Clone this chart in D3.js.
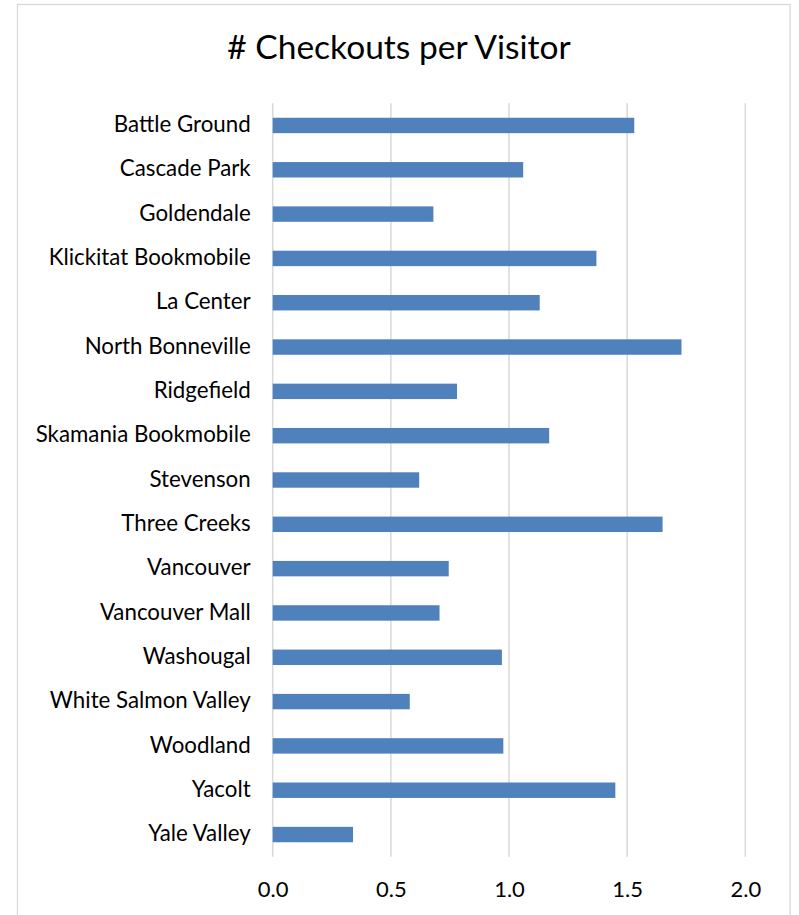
<!DOCTYPE html>
<html>
<head>
<meta charset="utf-8">
<script src="https://cdn.jsdelivr.net/npm/d3@7"></script>
<style>
  body { margin: 0; background: #fff; }
  svg text { font-family: Lato, "Liberation Sans", sans-serif; fill: #000; }
</style>
</head>
<body>
<div id="chart"></div>
<script>
// ========================================
// Data
// ========================================
const branches = [
  'Battle Ground', 'Cascade Park', 'Goldendale', 'Klickitat Bookmobile',
  'La Center', 'North Bonneville', 'Ridgefield', 'Skamania Bookmobile',
  'Stevenson', 'Three Creeks', 'Vancouver', 'Vancouver Mall',
  'Washougal', 'White Salmon Valley', 'Woodland', 'Yacolt', 'Yale Valley'
];
const checkoutsPerVisitor = [
  1.53, 1.06, 0.68, 1.37,
  1.13, 1.73, 0.78, 1.17,
  0.62, 1.65, 0.745, 0.706,
  0.97, 0.58, 0.976, 1.45, 0.34
];
const xTicks = [0, 0.5, 1.0, 1.5, 2.0];
const title = '# Checkouts per Visitor';

// ========================================
// Dimensions
// ========================================
const width = 799,
  height = 915,
  plotLeft = 272.7,     // x of 0.0
  plotRight = 745.3,    // x of 2.0
  plotTop = 103.3,
  plotBottom = 856.7,
  gridColor = '#d9d9d9',
  barColor = '#4f81bd';

const svg = d3.select('#chart')
  .append('svg')
    .attr('width', width)
    .attr('height', height);

// chart frame (bottom edge runs off the picture)
svg.append('rect')
  .attr('x', 17.5)
  .attr('y', 4.5)
  .attr('width', 772.5)
  .attr('height', 940)
  .attr('fill', '#fff')
  .attr('stroke', gridColor)
  .attr('stroke-width', 1.3);

// title
svg.append('text')
  .attr('x', 399)
  .attr('y', 59)
  .attr('text-anchor', 'middle')
  .style('font-size', '33.5px')
  .text(title);

// ========================================
// Scales
// ========================================
const xScale = d3.scaleLinear()
  .domain([0, 2])
  .range([plotLeft, plotRight]);

const yScale = d3.scaleBand()
  .domain(branches)
  .range([plotTop, plotBottom])
  .paddingInner(0.652)
  .paddingOuter(0.326);

// ========================================
// Gridlines (the 0.0 one doubles as axis line)
// ========================================
svg.append('g')
  .selectAll('line')
  .data(xTicks)
  .enter()
  .append('line')
    .attr('x1', d => xScale(d))
    .attr('x2', d => xScale(d))
    .attr('y1', plotTop)
    .attr('y2', plotBottom)
    .attr('stroke', gridColor)
    .attr('stroke-width', 1.5);

// ========================================
// X axis labels
// ========================================
const xAxis = svg.append('g')
  .attr('transform', 'translate(0,' + plotBottom + ')')
  .call(d3.axisBottom(xScale).tickValues(xTicks).tickFormat(d3.format('.1f')).tickSize(0).tickPadding(25));
xAxis.select('.domain').remove();
xAxis.selectAll('text')
  .style('font-size', '22px')
  .attr('fill', '#000');

// ========================================
// Y axis (category labels)
// ========================================
const yAxis = svg.append('g')
  .attr('transform', 'translate(' + plotLeft + ',0)')
  .call(d3.axisLeft(yScale).tickSize(0).tickPadding(22));
yAxis.select('.domain').remove();
yAxis.selectAll('text')
  .style('font-size', '22.3px')
  .attr('fill', '#000')
  .attr('dy', '0.3em');

// ========================================
// Bars
// ========================================
svg.append('g')
  .selectAll('rect')
  .data(checkoutsPerVisitor)
  .enter()
  .append('rect')
    .attr('x', xScale(0))
    .attr('y', (d, i) => yScale(branches[i]))
    .attr('width', d => xScale(d) - xScale(0))
    .attr('height', yScale.bandwidth())
    .attr('fill', barColor);
</script>
</body>
</html>
